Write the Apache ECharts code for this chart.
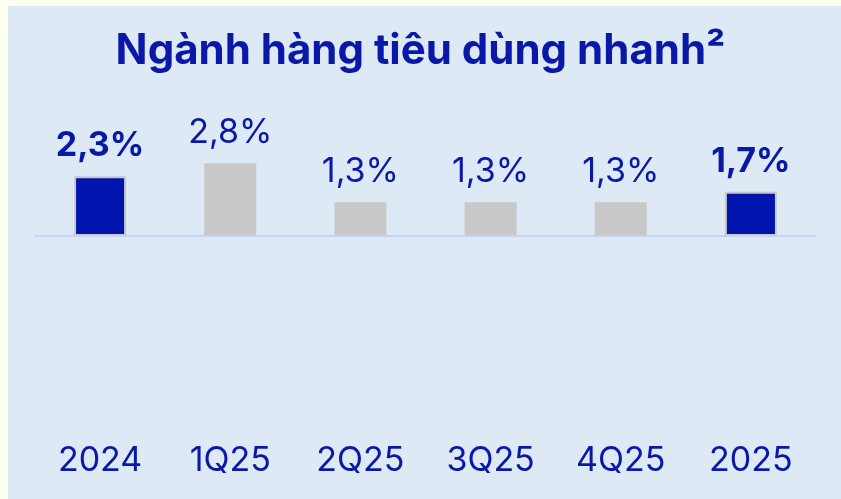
<!DOCTYPE html>
<html>
<head>
<meta charset="utf-8">
<script src="https://cdn.jsdelivr.net/npm/echarts@6/dist/echarts.min.js"></script>
<style>
  html, body { margin: 0; padding: 0; width: 841px; height: 499px; background: #fffff0; overflow: hidden; }
  #panel { position: absolute; left: 8px; top: 6px; width: 833px; height: 493px; background: #dde9f5; }
  #chart { position: absolute; left: 0; top: 0; width: 841px; height: 499px; }
</style>
</head>
<body>
<div id="panel"></div>
<div id="chart"></div>
<script>
const titleText = 'Ngành hàng tiêu dùng nhanh²';
const categories = ['2024', '1Q25', '2Q25', '3Q25', '4Q25', '2025'];
const values = [2.3, 2.8, 1.3, 1.3, 1.3, 1.7];
const valueLabels = ['2,3%', '2,8%', '1,3%', '1,3%', '1,3%', '1,7%'];
const highlighted = ['2024', '2025'];

const BLUE = '#0014ae';
const GRAY = '#c8c8c8';
const TEXT = '#0a18a8';

const chart = echarts.init(document.getElementById('chart'), null, { renderer: 'canvas' });

const seriesData = values.map((v, i) => {
  const hi = highlighted.includes(categories[i]);
  return {
    value: v,
    itemStyle: hi ? { color: BLUE, borderColor: GRAY, borderWidth: 2 } : { color: GRAY },
    label: { fontWeight: hi ? 'bold' : 'normal' }
  };
});

chart.setOption({
  backgroundColor: 'transparent',
  animation: false,
  title: {
    text: titleText,
    left: 'center',
    top: 25,
    textStyle: { fontFamily: 'Inter', fontSize: 42, fontWeight: 'bold', color: TEXT }
  },
  grid: { left: 35, right: 25, top: 132, bottom: 81 },
  xAxis: {
    type: 'category',
    data: categories,
    axisLine: { show: false, onZero: false },
    axisTick: { show: false },
    axisLabel: { margin: 26, fontFamily: 'Inter', fontSize: 34, color: TEXT }
  },
  yAxis: {
    type: 'value',
    min: -7,
    max: 4,
    show: false,
    splitLine: { show: false }
  },
  series: [{
    type: 'bar',
    data: seriesData,
    barWidth: 52,
    label: {
      show: true,
      position: 'top',
      distance: 13,
      fontFamily: 'Inter',
      fontSize: 34,
      color: TEXT,
      formatter: p => valueLabels[p.dataIndex]
    },
    markLine: {
      silent: true,
      symbol: 'none',
      label: { show: false },
      lineStyle: { color: '#c6d2f6', width: 2, type: 'solid' },
      data: [{ yAxis: 0 }]
    }
  }]
});
</script>
</body>
</html>
